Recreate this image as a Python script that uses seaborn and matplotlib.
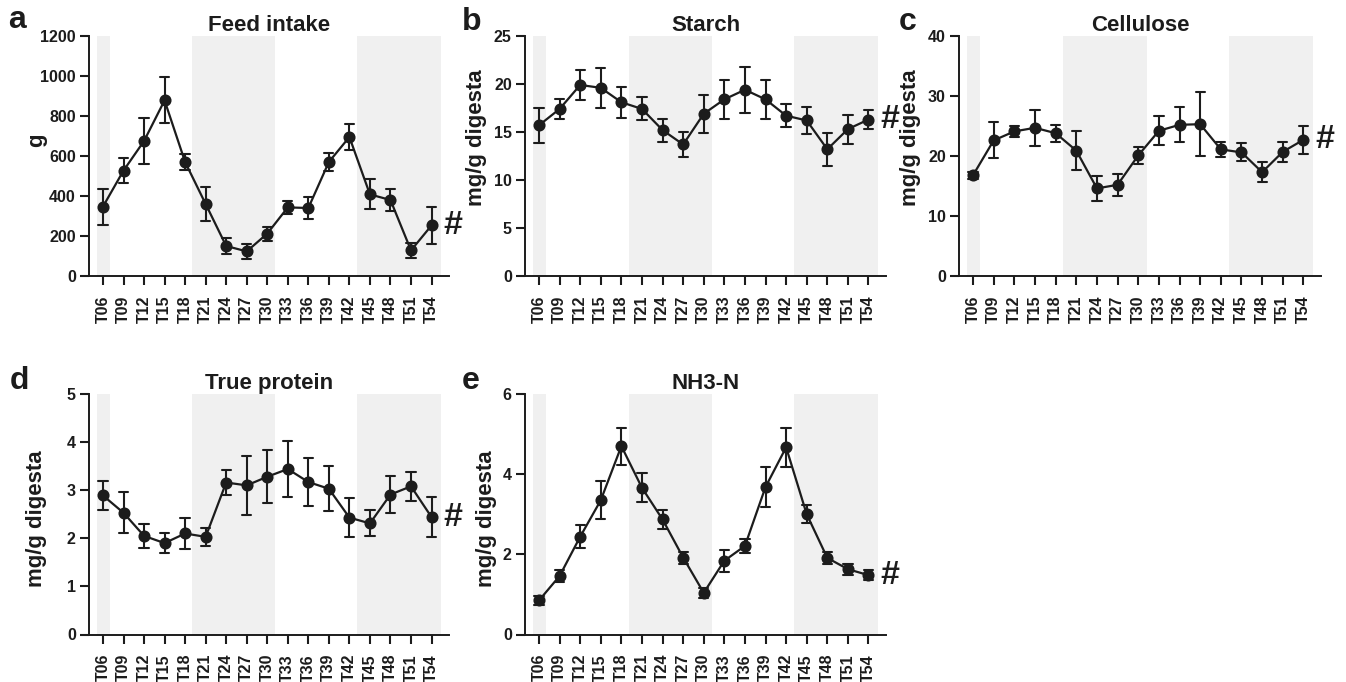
import numpy as np
import pandas as pd
import matplotlib
matplotlib.use("Agg")
import matplotlib.pyplot as plt
import seaborn as sns

# ---------------- data ----------------
times = ["T06", "T09", "T12", "T15", "T18", "T21", "T24", "T27", "T30",
         "T33", "T36", "T39", "T42", "T45", "T48", "T51", "T54"]

feed_mean = [347, 527, 675, 878, 570, 360, 150, 123, 212, 343, 340, 570, 695, 408, 380, 128, 253]
feed_sem = [90, 63, 113, 115, 38, 84, 38, 39, 35, 33, 54, 43, 65, 75, 55, 39, 92]

starch_mean = [15.7, 17.4, 19.9, 19.6, 18.1, 17.4, 15.2, 13.7, 16.9, 18.4, 19.4, 18.4, 16.7, 16.2, 13.2, 15.3, 16.3]
starch_sem = [1.8, 1.0, 1.6, 2.1, 1.6, 1.2, 1.2, 1.3, 2.0, 2.0, 2.4, 2.0, 1.2, 1.4, 1.7, 1.5, 1.0]

cell_mean = [16.8, 22.6, 24.1, 24.7, 23.8, 20.9, 14.6, 15.2, 20.1, 24.2, 25.2, 25.3, 21.1, 20.6, 17.3, 20.7, 22.7]
cell_sem = [0.6, 3.0, 0.9, 3.0, 1.4, 3.3, 2.1, 1.8, 1.4, 2.4, 2.9, 5.3, 1.2, 1.5, 1.7, 1.7, 2.3]

prot_mean = [2.89, 2.53, 2.05, 1.90, 2.10, 2.03, 3.16, 3.10, 3.28, 3.44, 3.17, 3.03, 2.43, 2.31, 2.91, 3.08, 2.44]
prot_sem = [0.30, 0.43, 0.25, 0.20, 0.32, 0.19, 0.27, 0.62, 0.55, 0.59, 0.50, 0.47, 0.40, 0.27, 0.38, 0.30, 0.41]

nh3_mean = [0.85, 1.46, 2.44, 3.35, 4.70, 3.66, 2.87, 1.92, 1.04, 1.84, 2.21, 3.68, 4.67, 3.00, 1.91, 1.63, 1.48]
nh3_sem = [0.12, 0.15, 0.28, 0.47, 0.46, 0.36, 0.23, 0.15, 0.12, 0.27, 0.18, 0.50, 0.48, 0.22, 0.14, 0.14, 0.12]

titles = ["Feed intake", "Starch", "Cellulose", "True protein", "NH3-N"]
ylabels = ["g", "mg/g digesta", "mg/g digesta", "mg/g digesta", "mg/g digesta"]
letters = ["a", "b", "c", "d", "e"]
ymax = [1200, 25, 40, 5, 6]
ystep = [200, 5, 10, 1, 2]
# dark (night) periods, in category units
dark_periods = [(-0.28, 0.33), (4.35, 8.4), (12.38, 16.45)]

# ---------------- style ----------------
sns.set_theme(style="ticks")
plt.rcParams["font.family"] = ["Liberation Sans", "DejaVu Sans"]
plt.rcParams["font.weight"] = "bold"
plt.rcParams["axes.labelweight"] = "bold"
plt.rcParams["axes.titleweight"] = "bold"

INK = "#1c1c1c"
BAND = "#f0f0f0"

fig = plt.figure(figsize=(13.46, 6.82), dpi=100)
W, H = 1346, 682

# axes boxes in pixels: left, top, right, bottom
boxes = [(89, 36, 449, 276), (525, 36, 886, 276), (959, 36, 1321, 276),
         (89, 394, 449, 634.5), (525, 394, 886, 634.5)]
ylab_x = [-0.115, -0.104, -0.104, -0.118, -0.078]
ylab_y = [0.567, 0.575, 0.575, 0.48, 0.48]
letter_pos = [(8, 28), (462, 30), (899, 30), (10, 389), (462, 389)]

series = [(feed_mean, feed_sem), (starch_mean, starch_sem), (cell_mean, cell_sem),
          (prot_mean, prot_sem), (nh3_mean, nh3_sem)]

for i, (means, sems) in enumerate(series):
    l, t, r, b = boxes[i]
    ax = fig.add_axes([l / W, 1 - b / H, (r - l) / W, (b - t) / H])
    rows = []
    for tm, m, e in zip(times, means, sems):
        for v in (m - e, m, m + e):
            rows.append({"time": tm, "value": v})
    df = pd.DataFrame(rows)

    for x0, x1 in dark_periods:
        ax.axvspan(x0, x1, color=BAND, zorder=0, lw=0)

    sns.pointplot(data=df, x="time", y="value", order=times, estimator="mean",
                  errorbar=("pi", 100), capsize=0.45, color=INK,
                  markersize=7.5, linewidth=1.6,
                  err_kws={"linewidth": 1.5}, ax=ax)

    ax.set_xlim(-0.68, 16.85)
    ax.set_ylim(0, ymax[i])
    ax.set_yticks(np.arange(0, ymax[i] + ystep[i] / 2, ystep[i]))
    ax.set_xlabel("")
    ax.set_ylabel(ylabels[i], fontsize=16, fontweight="bold", color=INK)
    ax.yaxis.set_label_coords(ylab_x[i], ylab_y[i])
    ax.set_title(titles[i], fontsize=16, fontweight="bold", color=INK, pad=3.5)
    sns.despine(ax=ax)
    for s in ("left", "bottom"):
        ax.spines[s].set_linewidth(1.4)
        ax.spines[s].set_color(INK)
    ax.tick_params(axis="both", direction="out", length=6.5, width=1.5, colors=INK,
                   labelsize=11.5)
    ax.tick_params(axis="y", pad=3)
    ax.tick_params(axis="x", labelrotation=90, pad=7.5)
    for lab in ax.get_xticklabels() + ax.get_yticklabels():
        lab.set_fontweight("bold")
    ax.patch.set_alpha(0)

    ax.text(16.6, means[-1], "#", fontsize=24.5, fontweight="bold", color=INK,
            ha="left", va="center", clip_on=False)

    lx, ly = letter_pos[i]
    fig.text(lx / W, 1 - ly / H, letters[i], fontsize=23, fontweight="bold",
             color=INK, ha="left", va="baseline")

fig.savefig("out.png", dpi=100)
